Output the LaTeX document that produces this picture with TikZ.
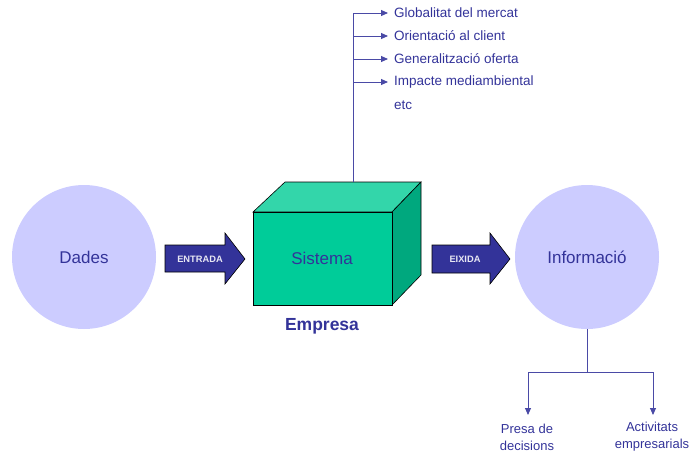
\documentclass[tikz,border=0pt]{standalone}
\usepackage{fontspec}
\setmainfont{Liberation Sans}
\usetikzlibrary{arrows.meta}
\definecolor{navy}{HTML}{333399}
\definecolor{lav}{HTML}{CCCCFF}
\definecolor{cfront}{HTML}{00CC99}
\definecolor{ctop}{HTML}{33D6AA}
\definecolor{cside}{HTML}{00A87E}
\definecolor{lnc}{HTML}{4A4AA6}
\begin{document}
\begin{tikzpicture}[x=1pt,y=-1pt,
  bubble/.style={circle,fill=lav,minimum size=144pt,inner sep=0pt,text=navy,font=\fontsize{17}{20}\selectfont},
  bigarrow/.style={fill=navy,draw=black,line width=0.6pt},
  arrowlbl/.style={text=white!88!navy,font=\fontsize{9.3}{11}\bfseries},
  conn/.style={draw=lnc,line width=0.9pt},
  arrtip/.style={-{Triangle[length=7pt,width=6pt]}},
  itemlbl/.style={anchor=west,text=navy,font=\fontsize{13.5}{15}\selectfont,inner sep=0pt},
  outlbl/.style={align=center,text=navy,font=\fontsize{13}{17}\selectfont,inner sep=0pt}]
\useasboundingbox (0,0) rectangle (691,458);
% circles
\node[bubble] (dades) at (84,257) {Dades};
\node[bubble] (info) at (587,257) {Informació};
% cube
\fill[ctop,draw=black,line width=0.6pt] (253,212) -- (285,182) -- (421,182) -- (392,212) -- cycle;
\fill[cside,draw=black,line width=0.6pt] (392,212) -- (421,182) -- (421,275) -- (392,305) -- cycle;
\node[draw=black,line width=0.6pt,fill=cfront,minimum width=139pt,minimum height=93pt,inner sep=0pt,anchor=north west] (cube) at (253,212) {};
\node[text=navy,font=\fontsize{17}{20}\selectfont] (sis) at (322,258) {Sistema};
\node[text=navy,font=\fontsize{17.5}{20}\bfseries] (emp) at (322,326) {Empresa};
% arrows
\draw[bigarrow] (165,245) -- (225,245) -- (225,233) -- (245,259) -- (225,284) -- (225,272) -- (165,272) -- cycle;
\node[arrowlbl] (entrada) at (200,259) {ENTRADA};
\draw[bigarrow] (432,245) -- (490,245) -- (490,233) -- (510,259) -- (490,284) -- (490,273) -- (432,273) -- cycle;
\node[arrowlbl] (eixida) at (465,259) {EIXIDA};
% top list
\coordinate (ctop) at (353,182);
\coordinate (ltop) at (353,13);
\draw[conn] (ctop) -- (ltop);
\node[itemlbl] (g1) at (394,13) {Globalitat del mercat};
\node[itemlbl] (g2) at (394,36) {Orientació al client};
\node[itemlbl] (g3) at (394,59) {Generalització oferta};
\node[itemlbl] (g4) at (394,82) {Impacte mediambiental};
\node[itemlbl] (g5) at (394,105) {etc};
\foreach \n/\y in {g1/13,g2/36,g3/59,g4/82}{
  \coordinate (b\n) at (353,\y);
  \draw[conn,arrtip] (b\n) -- ([xshift=-6pt]\n.west);
}
% bottom
\coordinate (j) at (587,372);
\coordinate (jl) at (528,372);
\coordinate (jr) at (653,372);
\node[outlbl] (presa) at (527,437) {Presa de\\decisions};
\node[outlbl] (activ) at (652,437) {Activitats\\empresarials};
\coordinate (tl) at (528,415);
\coordinate (tr) at (653,415);
\draw[conn] (info.south) -- (j);
\draw[conn] (jl) -- (jr);
\draw[conn,arrtip] (jl) -- (tl);
\draw[conn,arrtip] (jr) -- (tr);
\end{tikzpicture}
\end{document}
